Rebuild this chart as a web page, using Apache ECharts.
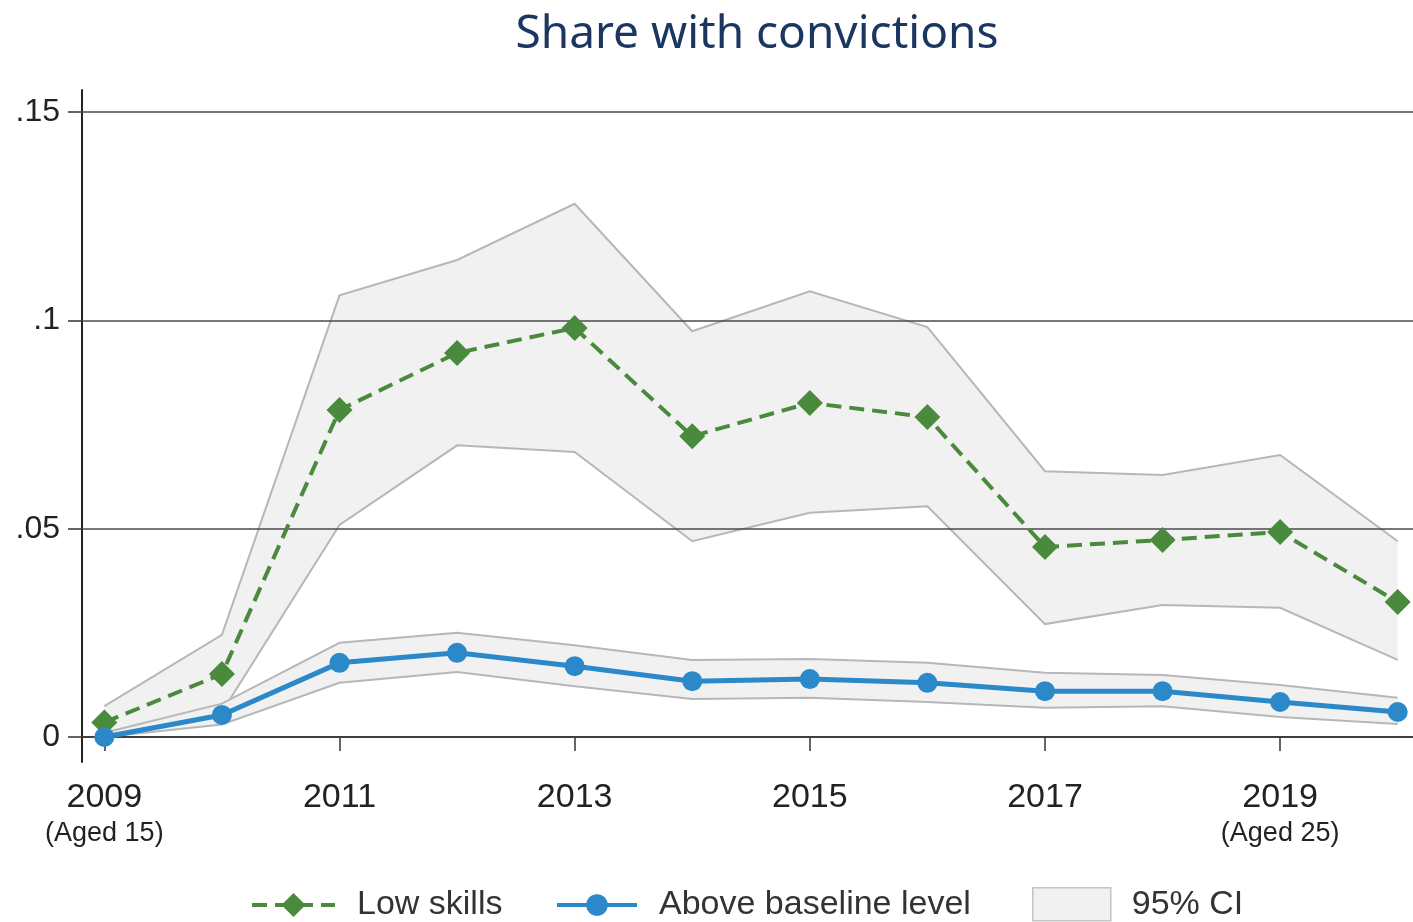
<!DOCTYPE html>
<html>
<head>
<meta charset="utf-8">
<script src="https://cdn.jsdelivr.net/npm/echarts@6/dist/echarts.min.js"></script>
<style>
html, body { margin: 0; padding: 0; background: #fff; }
#chart { width: 1413px; height: 922px; }
</style>
</head>
<body>
<div id="chart"></div>
<script>
var years = [2009, 2010, 2011, 2012, 2013, 2014, 2015, 2016, 2017, 2018, 2019, 2020];

var lowSkills   = [0.0035, 0.0151, 0.0785, 0.0922, 0.0982, 0.0722, 0.0802, 0.0768, 0.0456, 0.0473, 0.0492, 0.0324];
var lowSkillsLo = [0.0000, 0.0060, 0.0509, 0.0700, 0.0684, 0.0470, 0.0538, 0.0554, 0.0271, 0.0317, 0.0310, 0.0185];
var lowSkillsHi = [0.0074, 0.0245, 0.1060, 0.1145, 0.1280, 0.0974, 0.1070, 0.0984, 0.0638, 0.0629, 0.0677, 0.0470];

var baseline   = [0.0000, 0.0053, 0.0178, 0.0202, 0.0170, 0.0134, 0.0139, 0.0130, 0.0110, 0.0110, 0.0084, 0.0060];
var baselineLo = [0.0000, 0.0030, 0.0130, 0.0156, 0.0122, 0.0091, 0.0094, 0.0084, 0.0070, 0.0074, 0.0048, 0.0031];
var baselineHi = [0.0010, 0.0080, 0.0226, 0.0250, 0.0220, 0.0185, 0.0187, 0.0178, 0.0154, 0.0149, 0.0125, 0.0094];

var yTicks = [0, 0.05, 0.1, 0.15];
var xTicks = [2009, 2011, 2013, 2015, 2017, 2019];
var xSubLabels = { 2009: '(Aged 15)', 2019: '(Aged 25)' };

var green = '#4a8a3c';
var blue = '#2b88c9';
var bandFill = '#f1f1f1';
var bandEdge = '#b7b7b7';

function pairs(vals) {
	return years.map(function (y, i) { return [y, vals[i]]; });
}

// whole CI polygon drawn once, through the axes' scales
function band(lo, hi) {
	return {
		type: 'custom',
		name: '95% CI',
		z: 1,
		silent: true,
		data: years.map(function (y, i) { return [y, lo[i], hi[i]]; }),
		renderItem: function (params, api) {
			if (params.dataIndex !== 0) {
				return null;
			}
			var top = years.map(function (y, i) { return api.coord([y, hi[i]]); });
			var bot = years.map(function (y, i) { return api.coord([y, lo[i]]); });
			return {
				type: 'group',
				children: [
					{ type: 'polygon', shape: { points: top.concat(bot.slice().reverse()) }, style: { fill: bandFill } },
					{ type: 'polyline', shape: { points: top }, style: { stroke: bandEdge, lineWidth: 2, fill: null } },
					{ type: 'polyline', shape: { points: bot }, style: { stroke: bandEdge, lineWidth: 2, fill: null } }
				]
			};
		}
	};
}

var chart = echarts.init(document.getElementById('chart'));

var legendText = { fontFamily: 'Liberation Sans', fontSize: 34, color: '#333', padding: [0, 0, 0, 17] };

var option = {
	animation: false,
	graphic: [
		{
			type: 'text',
			x: 757,
			y: 35,
			style: {
				text: 'Share with convictions',
				fill: '#1b3660',
				font: '46px "Noto Sans"',
				align: 'center',
				verticalAlign: 'middle'
			}
		}
	],
	grid: {
		left: 82,
		right: 0,
		top: 90,
		bottom: 160,
		outerBoundsMode: 'none'
	},
	legend: [
		{
			left: 250,
			top: 888,
			padding: 0,
			itemWidth: 83,
			itemHeight: 30,
			data: ['Low skills'],
			lineStyle: { width: 4 },
			textStyle: legendText
		},
		{
			left: 555,
			top: 888,
			padding: 0,
			itemWidth: 80,
			itemHeight: 27,
			data: ['Above baseline level'],
			lineStyle: { width: 4 },
			textStyle: legendText
		},
		{
			left: 1032,
			top: 887,
			padding: 0,
			itemWidth: 78,
			itemHeight: 33,
			data: [{
				name: '95% CI',
				icon: 'rect',
				itemStyle: { color: bandFill, borderColor: '#c4c4c4', borderWidth: 1.5 }
			}],
			textStyle: { fontFamily: 'Liberation Sans', fontSize: 34, color: '#333', padding: [0, 0, 0, 16] }
		}
	],
	xAxis: {
		type: 'value',
		min: 2008.81,
		max: 2020.13,
		splitLine: { show: false },
		axisLine: { lineStyle: { color: '#222', width: 2 } },
		axisTick: {
			customValues: xTicks,
			length: 14,
			lineStyle: { color: '#333', width: 1.5 }
		},
		axisLabel: {
			customValues: xTicks,
			margin: 17,
			formatter: function (v) {
				var s = '{y|' + v + '}';
				if (xSubLabels[v]) {
					s += '\n{a|' + xSubLabels[v] + '}';
				}
				return s;
			},
			rich: {
				y: { fontFamily: 'Liberation Sans', fontSize: 34, color: '#222', lineHeight: 38 },
				a: { fontFamily: 'Liberation Sans', fontSize: 27, color: '#222', lineHeight: 34 }
			}
		}
	},
	yAxis: {
		type: 'value',
		min: -0.006,
		max: 0.1553,
		splitLine: { show: false },
		axisLine: { show: true, lineStyle: { color: '#222', width: 2 } },
		axisTick: {
			show: true,
			customValues: yTicks,
			length: 14,
			lineStyle: { color: '#333', width: 1.5 }
		},
		axisLabel: {
			customValues: yTicks,
			margin: 22,
			fontFamily: 'Liberation Sans',
			fontSize: 32,
			color: '#222',
			formatter: function (v) {
				return v === 0 ? '0' : String(v).replace(/^0/, '');
			}
		}
	},
	series: [
		band(lowSkillsLo, lowSkillsHi),
		band(baselineLo, baselineHi),
		{
			name: 'Low skills',
			type: 'line',
			z: 3,
			data: pairs(lowSkills),
			symbol: 'diamond',
			symbolSize: 26,
			itemStyle: { color: green },
			lineStyle: { color: green, width: 4, type: [15, 8] }
		},
		{
			name: 'Above baseline level',
			type: 'line',
			z: 3,
			data: pairs(baseline),
			symbol: 'circle',
			symbolSize: 20,
			itemStyle: { color: blue },
			lineStyle: { color: blue, width: 5 },
			markLine: {
				silent: true,
				z: 2,
				symbol: ['none', 'none'],
				label: { show: false },
				lineStyle: { color: '#4a4a4a', width: 1.5, type: 'solid' },
				data: yTicks.map(function (v) { return { yAxis: v }; })
			}
		}
	]
};

chart.setOption(option);
</script>
</body>
</html>
